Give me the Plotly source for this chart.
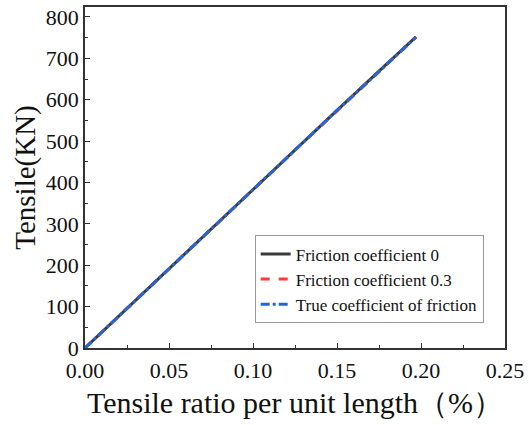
import plotly.graph_objects as go

strain = [0.0, 0.025, 0.05, 0.075, 0.10, 0.125, 0.15, 0.175, 0.197]
tensile_f0 = [0, 96, 192, 288, 383, 479, 574, 669, 752]
tensile_f03 = [0, 96, 191, 287, 382, 478, 573, 668, 751]
tensile_true = [0, 96, 192, 287, 383, 478, 574, 668, 751]

names = ["Friction coefficient 0", "Friction coefficient 0.3", "True coefficient of friction"]
font = "Liberation Serif, Times New Roman, serif"

fig = go.Figure()
fig.add_trace(go.Scatter(x=strain, y=tensile_f0, mode="lines", name=names[0],
                         line=dict(color="#3a3a3a", width=3, dash="solid")))
fig.add_trace(go.Scatter(x=strain, y=tensile_f03, mode="lines", name=names[1],
                         line=dict(color="#ff3a3a", width=3, dash="dash")))
fig.add_trace(go.Scatter(x=strain, y=tensile_true, mode="lines", name=names[2],
                         line=dict(color="#2068d8", width=3, dash="dashdot")))

axis_common = dict(showline=True, linecolor="#333", linewidth=1.5, mirror=True,
                   ticks="inside", ticklen=5, tickwidth=1, tickcolor="#333",
                   showgrid=False, zeroline=False, ticklabeloverflow="allow",
                   tickfont=dict(family=font, size=22, color="#111"))
fig.update_xaxes(range=[0, 0.25], dtick=0.05, tickformat=".2f", ticklabelstandoff=2,
                 minor=dict(ticks="inside", ticklen=3, dtick=0.025, tickcolor="#333"),
                 title=dict(text="Tensile ratio per unit length（%）",
                            font=dict(family=font, size=30, color="#111"), standoff=10),
                 **axis_common)
fig.update_yaxes(range=[0, 824], dtick=100,
                 minor=dict(ticks="inside", ticklen=3, dtick=50, tickcolor="#333"),
                 title=dict(text="Tensile(KN)", font=dict(family=font, size=29, color="#111"),
                            standoff=2),
                 **axis_common)
fig.update_layout(
    width=529, height=425,
    margin=dict(l=85, r=18, t=5, b=77),
    paper_bgcolor="white", plot_bgcolor="white",
    font=dict(family=font, color="#111"),
    legend=dict(x=0.404, y=0.33, xanchor="left", yanchor="top",
                bgcolor="white", bordercolor="#999", borderwidth=1,
                font=dict(family=font, size=17, color="#111"),
                tracegroupgap=0, itemwidth=30),
    showlegend=True,
)
fig.write_html("out.html")
